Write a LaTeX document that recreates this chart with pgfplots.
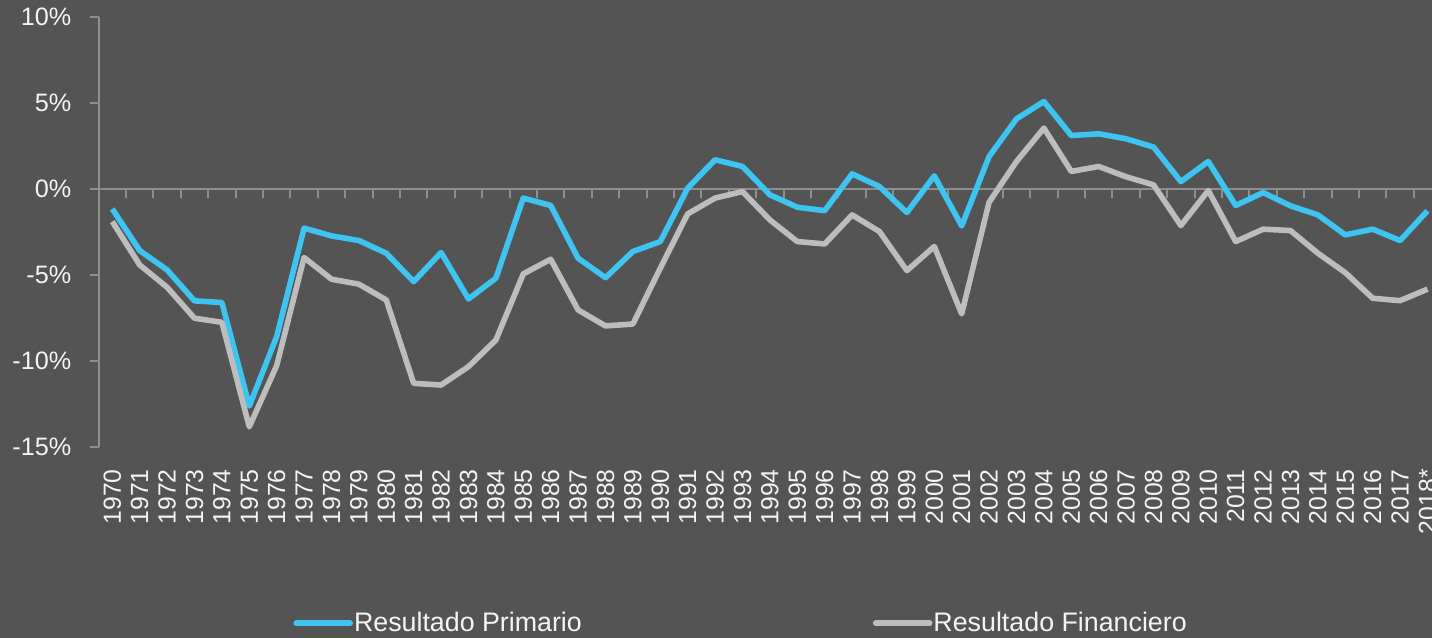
\documentclass[border=0pt]{standalone}
\usepackage{pgfplots}
\pgfplotsset{compat=1.18}
\usepackage{pgfplotstable}
\usepackage{fontspec}
\setmainfont{Liberation Sans}
\definecolor{bgcol}{HTML}{545454}
\definecolor{axcol}{HTML}{8E8E8E}
\definecolor{bluecol}{HTML}{3EC4F0}
\definecolor{graycol}{HTML}{BDBDBD}
\definecolor{txtcol}{HTML}{F4F4F4}
\pgfplotstableread{
x p f
0 -1.15 -1.89
1 -3.57 -4.41
2 -4.70 -5.71
3 -6.50 -7.51
4 -6.60 -7.75
5 -12.62 -13.83
6 -8.58 -10.27
7 -2.27 -3.98
8 -2.72 -5.24
9 -2.99 -5.53
10 -3.73 -6.45
11 -5.38 -11.30
12 -3.69 -11.40
13 -6.39 -10.33
14 -5.18 -8.78
15 -0.52 -4.93
16 -0.95 -4.08
17 -4.02 -7.03
18 -5.15 -7.96
19 -3.63 -7.85
20 -3.05 -4.60
21 0.06 -1.44
22 1.71 -0.52
23 1.32 -0.14
24 -0.33 -1.79
25 -1.05 -3.05
26 -1.25 -3.19
27 0.89 -1.50
28 0.15 -2.47
29 -1.36 -4.74
30 0.77 -3.34
31 -2.14 -7.26
32 1.90 -0.76
33 4.09 1.61
34 5.10 3.55
35 3.12 1.03
36 3.22 1.32
37 2.93 0.72
38 2.45 0.25
39 0.44 -2.12
40 1.61 -0.08
41 -0.95 -3.05
42 -0.20 -2.33
43 -0.97 -2.41
44 -1.50 -3.73
45 -2.66 -4.86
46 -2.33 -6.35
47 -2.99 -6.49
48 -1.26 -5.82
}\datatable
\begin{document}
\begin{tikzpicture}
\fill[bgcol] (-49.3pt,-95.55pt) rectangle (666.7pt,223.45pt);
\begin{axis}[
  scale only axis,
  width=671.3pt, height=214.8pt,
  xmin=-0.5, xmax=48.5, ymin=-15, ymax=10,
  axis y line*=left, axis x line*=bottom,
  x axis line style={draw=none},
  y axis line style={axcol, line width=1pt},
  xtick={0,...,48},
  xticklabels={1970,1971,1972,1973,1974,1975,1976,1977,1978,1979,1980,1981,1982,1983,1984,1985,1986,1987,1988,1989,1990,1991,1992,1993,1994,1995,1996,1997,1998,1999,2000,2001,2002,2003,2004,2005,2006,2007,2008,2009,2010,2011,2012,2013,2014,2015,2016,2017,2018*},
  x tick style={draw=none},
  xticklabel style={rotate=90, anchor=east, inner sep=0pt, font=\fontsize{12.4}{14}\selectfont, text=txtcol},
  xticklabel shift=6.5pt,
  ytick={-15,-10,-5,0,5,10},
  yticklabels={-15\%,-10\%,-5\%,0\%,5\%,10\%},
  yticklabel style={font=\fontsize{12.6}{14}\selectfont, text=txtcol, inner sep=0pt, xshift=-9pt},
  y tick style={axcol, line width=1pt},
  tick align=outside, major tick length=4.5pt,
  legend columns=2,
  legend style={at={(0.1448,-0.4106)}, anchor=west, draw=none, fill=none, inner sep=0pt,
    font=\fontsize{13.4}{15}\selectfont, text=txtcol,
    nodes={inner sep=0pt},
    /tikz/every odd column/.append style={column sep=0.5pt},
    /tikz/every even column/.append style={column sep=145.5pt}},
  legend image code/.code={\draw[#1, line cap=round] (0pt,0pt) -- (27pt,0pt);},
]
\draw[axcol, line width=1pt] (axis cs:-0.5,0) -- (axis cs:48.5,0);
\pgfplotsinvokeforeach{0,...,47}{\draw[axcol, line width=1pt] (axis cs:#1.5,0) -- ++(0pt,-4.5pt);}
\addplot[bluecol, line width=2.8pt, line join=round] table[x=x, y=p] {\datatable};
\addlegendentry{Resultado Primario}
\addplot[graycol, line width=2.8pt, line join=round] table[x=x, y=f] {\datatable};
\addlegendentry{Resultado Financiero}
\end{axis}
\pgfresetboundingbox
\path[use as bounding box] (-49.3pt,-95.55pt) rectangle (666.7pt,223.45pt);
\end{tikzpicture}
\end{document}
